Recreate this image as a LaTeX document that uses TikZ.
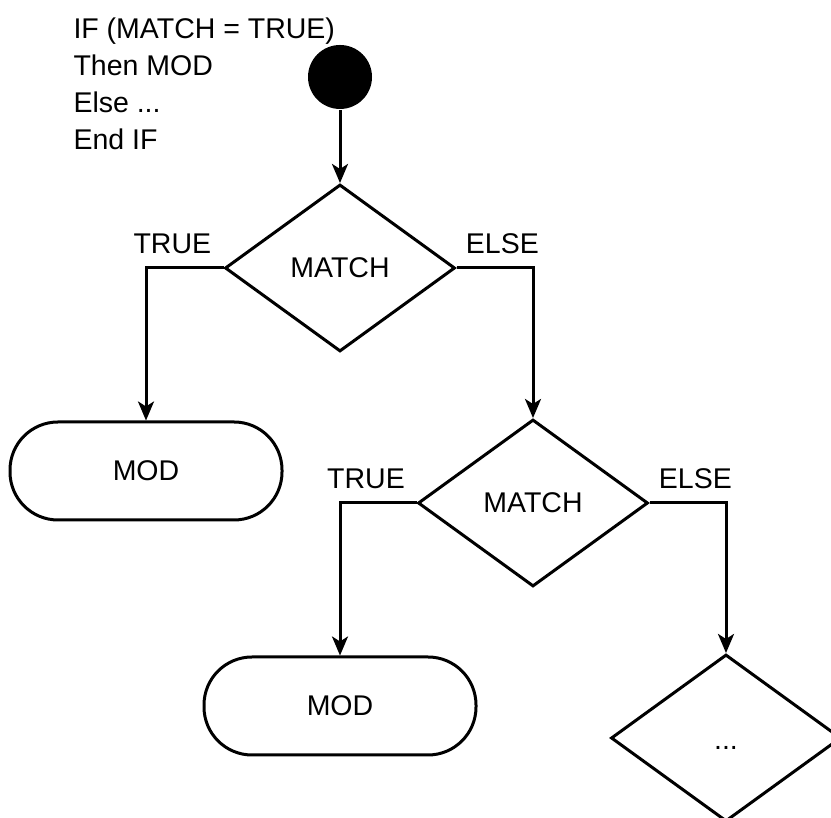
\documentclass[tikz,border=0pt]{standalone}
\usepackage{fontspec}
\setmainfont{Liberation Sans}
\usetikzlibrary{shapes.geometric,arrows.meta}

\begin{document}
\begin{tikzpicture}[x=1pt, y=1pt, line width=3pt,
	font=\fontsize{28.5}{37}\selectfont,
	cond/.style={diamond, draw, minimum width=230pt, minimum height=167pt, inner sep=0pt},
	term/.style={rectangle, draw, rounded corners=48pt, minimum width=272pt, minimum height=98pt},
	flow/.style={-{Stealth[length=19pt, width=16pt, inset=5pt]}},
	lbl/.style={inner sep=0pt, above=13pt}]
\useasboundingbox (0,0) rectangle (831,818);

\node[anchor=north west, align=left, inner sep=0pt] (code) at (72,802)
	{IF (MATCH = TRUE)\\Then MOD\\Else ...\\End IF};
\node[circle, fill, minimum size=64pt, inner sep=0pt] (start) at (340,741) {};

\node[cond] (match1) at (340,550) {MATCH};
\node[term] (mod1) at (146,347) {MOD};
\node[cond] (match2) at (533,315) {MATCH};
\node[term] (mod2) at (340,112) {MOD};
\node[cond, text height=24pt, text depth=0pt] (next) at (726,80) {...};

\draw[flow] (start) -- (match1);
\draw[flow] (match1.west) -| node[lbl, pos=.33] {TRUE} (mod1.north);
\draw[flow] (match1.east) -| node[lbl, pos=.3] {ELSE} (match2.north);
\draw[flow] (match2.west) -| node[lbl, pos=.33] {TRUE} (mod2.north);
\draw[flow] (match2.east) -| node[lbl, pos=.3] {ELSE} (next.north);
\end{tikzpicture}
\end{document}
